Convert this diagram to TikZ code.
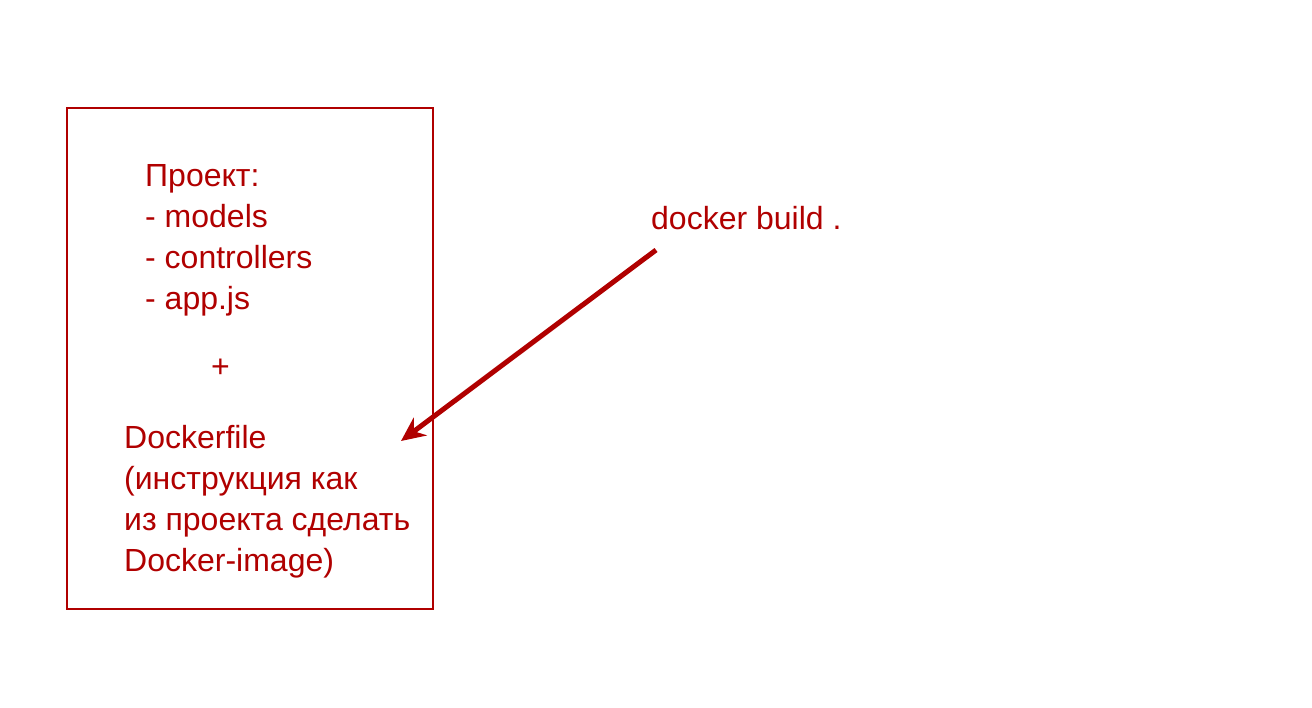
\documentclass[tikz,border=0pt]{standalone}
\usepackage{fontspec}
\setmainfont{Liberation Sans}
\usetikzlibrary{arrows.meta}
\definecolor{dred}{RGB}{176,0,0}
\begin{document}
\begin{tikzpicture}[x=1pt,y=-1pt,
  lbl/.style={anchor=base west,inner sep=0pt,text=dred,font=\fontsize{32}{41}\selectfont,align=left},
  frame/.style={draw=dred,line width=2pt}]
\useasboundingbox (0,0) rectangle (1312,707);
\node[frame,minimum width=366pt,minimum height=501pt,anchor=north west,inner sep=0pt] (box) at (66,107) {};
\node[lbl] (proj) at (145,309) {Проект:\\- models\\- controllers\\- app.js};
\node[lbl] (plus) at (211,377) {+};
\node[lbl] (df) at (124,571) {Dockerfile\\(инструкция как\\из проекта сделать\\Docker-image)};
\node[lbl] (cmd) at (651,229) {docker build .};
\coordinate (from) at (656,250);
\coordinate (to) at (401,441);
\draw[dred,line width=5pt,-{Stealth[length=24pt,width=22pt]}] (from) -- (to);
\end{tikzpicture}
\end{document}
